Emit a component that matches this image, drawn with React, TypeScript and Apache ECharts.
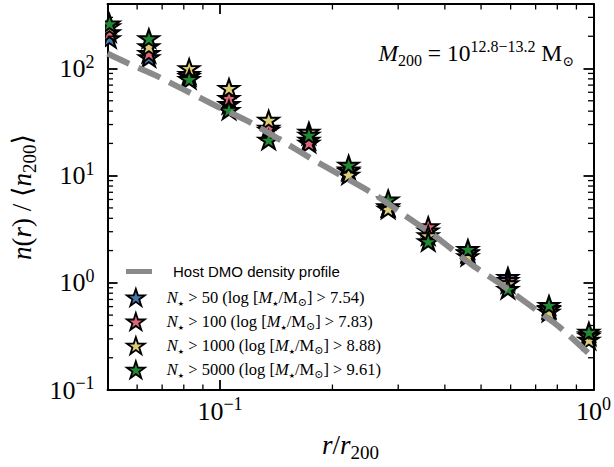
import React, { useEffect, useRef } from 'react';
import * as echarts from 'echarts';

// ---- data ----
const rBins = [0.0506, 0.0645, 0.0827, 0.1057, 0.135, 0.173, 0.221, 0.282, 0.361, 0.461, 0.59, 0.76, 0.972];
const nGt50 = [191, 127, 84.8, 46.6, 26.7, 21.6, 11.1, 5.15, 3.08, 1.9, 1.13, 0.58, 0.33];
const nGt100 = [217, 139, 88.5, 53, 27.9, 20.2, 11.4, 5.15, 3.36, 1.93, 1.06, 0.57, 0.32];
const nGt1000 = [247, 161, 100.6, 65.6, 33.1, 25.6, 10.2, 4.9, 2.77, 1.77, 0.99, 0.535, 0.294];
const nGt5000 = [263, 191, 79.6, 41, 21.6, 24, 12.6, 5.98, 2.44, 2.06, 0.875, 0.62, 0.348];

const hostR = [0.05, 0.057, 0.067, 0.0805, 0.0986, 0.1195, 0.145, 0.1776, 0.259, 0.314, 0.378, 0.47, 0.565, 0.686, 0.81, 1.0];
const hostN = [138, 111, 86.7, 62.9, 44, 31.9, 21.6, 14.1, 6.7, 4.2, 2.7, 1.49, 0.97, 0.594, 0.388, 0.2];

const seriesNames = ['N⋆ > 50', 'N⋆ > 100', 'N⋆ > 1000', 'N⋆ > 5000'];
const thresholds = ['50', '100', '1000', '5000'];
const massCuts = ['7.54', '7.83', '8.88', '9.61'];
const seriesValues = [nGt50, nGt100, nGt1000, nGt5000];
const seriesColors = ['#4477AA', '#DD6677', '#DDCC77', '#228833'];
const hostName = 'Host DMO density profile';

const xMajorTicks = [0.1, 1];
const xTickExp = ['−1', '0'];
const yMajorTicks = [0.1, 1, 10, 100];
const yTickExp = ['−1', '0', '1', '2'];
const xMinorTicks = [0.06, 0.07, 0.08, 0.09, 0.2, 0.3, 0.4, 0.5, 0.6, 0.7, 0.8, 0.9];
const yMinorTicks = [0.2, 0.3, 0.4, 0.5, 0.6, 0.7, 0.8, 0.9, 2, 3, 4, 5, 6, 7, 8, 9, 20, 30, 40, 50, 60, 70, 80, 90, 200, 300];

const X_MIN = 0.05, X_MAX = 1;
const Y_MIN = 0.1, Y_MAX = 400;

const SERIF = '"Liberation Serif", "DejaVu Serif", serif';
const SANS = '"Liberation Sans", "DejaVu Sans", sans-serif';
const STAR = 'path://M50 0 L61.23 34.55 L97.55 34.55 L68.16 55.9 L79.39 90.45 L50 69.1 L20.61 90.45 L31.84 55.9 L2.45 34.55 L38.77 34.55 Z';

const tickRich: any = {
  b: { fontFamily: SERIF, fontSize: 26, lineHeight: 32, color: '#000' },
  s: { fontFamily: SERIF, fontSize: 18, lineHeight: 24, verticalAlign: 'top', color: '#000' },
};
const nameRich: any = {
  i: { fontFamily: SERIF, fontStyle: 'italic', fontSize: 27, lineHeight: 34, color: '#000' },
  n: { fontFamily: SERIF, fontSize: 27, lineHeight: 34, color: '#000' },
  sub: { fontFamily: SERIF, fontSize: 19, lineHeight: 20, verticalAlign: 'bottom', color: '#000' },
};
const legRich: any = {
  g: { width: 10 },
  g2: { width: 16 },
  h: { fontFamily: SANS, fontSize: 15, lineHeight: 20, color: '#000' },
  i: { fontFamily: SERIF, fontStyle: 'italic', fontSize: 16.5, lineHeight: 20, color: '#000' },
  n: { fontFamily: SERIF, fontSize: 16.5, lineHeight: 20, color: '#000' },
  sub: { fontFamily: SERIF, fontSize: 11, lineHeight: 12, verticalAlign: 'bottom', color: '#000' },
  st: { fontFamily: '"DejaVu Sans", sans-serif', fontSize: 7, lineHeight: 10, verticalAlign: 'bottom', color: '#000' },
};

const fmt = (ticks: number[], exps: string[]) => (v: number) => {
  const i = ticks.findIndex((t) => Math.abs(v - t) / t < 1e-6);
  return i < 0 ? '' : `{b|10}{s|${exps[i]}}`;
};

export default function App() {
  const ref = useRef<HTMLDivElement>(null);
  useEffect(() => {
    const chart = echarts.init(ref.current!, null, { renderer: 'svg' });

    const axisCommon = {
      type: 'log' as const,
      logBase: 10,
      splitLine: { show: false },
      axisLine: { show: true, onZero: false, lineStyle: { color: '#000', width: 2 } },
      axisTick: { show: true, inside: true, length: 10, lineStyle: { color: '#000', width: 1.8 } },
      minorTick: { show: false },
    };

    const minorData: number[][] = [
      ...xMinorTicks.map((v) => [v, 1, 0]),
      ...yMinorTicks.map((v) => [0.1, v, 1]),
    ];

    const option: any = {
      animation: false,
      backgroundColor: '#fff',
      grid: { left: 106, right: 17, top: 4, bottom: 75, containLabel: false },
      xAxis: [
        {
          ...axisCommon,
          min: X_MIN,
          max: X_MAX,
          position: 'bottom',
          axisLabel: { show: true, margin: 5, formatter: fmt(xMajorTicks, xTickExp), rich: tickRich },
          name: '{i|r}{n|/}{i|r}{sub|200}',
          nameLocation: 'middle',
          nameGap: 38,
          nameTextStyle: { rich: nameRich },
        },
        {
          ...axisCommon,
          min: X_MIN,
          max: X_MAX,
          position: 'top',
          axisLabel: { show: false },
        },
      ],
      yAxis: [
        {
          ...axisCommon,
          min: Y_MIN,
          max: Y_MAX,
          position: 'left',
          axisLabel: { show: true, margin: 13, formatter: fmt(yMajorTicks, yTickExp), rich: tickRich },
          name: '{i|n}{n|(}{i|r}{n|) / ⟨}{i|n}{sub|200}{n|⟩}',
          nameLocation: 'middle',
          nameRotate: 90,
          nameGap: 67,
          nameTextStyle: { rich: nameRich },
        },
        {
          ...axisCommon,
          min: Y_MIN,
          max: Y_MAX,
          position: 'right',
          axisLabel: { show: false },
        },
      ],
      legend: [
        {
          data: [{ name: hostName, icon: 'rect' }],
          left: 121,
          top: 259,
          orient: 'vertical',
          itemWidth: 26,
          itemHeight: 5,
          selectedMode: false,
          formatter: () => `{g2| }{h|${hostName}}`,
          textStyle: { rich: legRich },
        },
        {
          data: seriesNames,
          left: 121,
          top: 283,
          orient: 'vertical',
          itemWidth: 32,
          itemHeight: 17,
          itemGap: 4.7,
          selectedMode: false,
          itemStyle: { borderColor: '#000', borderWidth: 1.8 },
          formatter: (name: string) => {
            const i = seriesNames.indexOf(name);
            return `{g| }{i|N}{st|★}{n| > ${thresholds[i]} (log [}{i|M}{st|★}{n|/M}{sub|⊙}{n|] > ${massCuts[i]})}`;
          },
          textStyle: { rich: legRich },
        },
      ],
      series: [
        ...seriesNames.map((name, k) => ({
          name,
          type: 'scatter',
          xAxisIndex: 0,
          yAxisIndex: 0,
          symbol: STAR,
          symbolSize: [20, 19],
          symbolKeepAspect: true,
          itemStyle: { color: seriesColors[k], borderColor: '#000', borderWidth: 2, opacity: 1 },
          z: 2 + k * 0.01,
          data: rBins.map((r, i) => [r, seriesValues[k][i]]),
        })),
        {
          name: hostName,
          type: 'line',
          xAxisIndex: 0,
          yAxisIndex: 0,
          showSymbol: false,
          symbol: 'none',
          smooth: 0.2,
          itemStyle: { color: '#8a8a8a' },
          lineStyle: { color: '#8a8a8a', width: 6, type: [24, 10], cap: 'butt' },
          z: 3,
          data: hostR.map((r, i) => [r, hostN[i]]),
        },
        {
          name: 'minorTicks',
          type: 'custom',
          xAxisIndex: 0,
          yAxisIndex: 0,
          silent: true,
          clip: false,
          z: 6,
          encode: { x: 0, y: 1 },
          data: minorData,
          renderItem: (params: any, api: any) => {
            const cs = params.coordSys;
            const kind = api.value(2);
            const L = 5.5;
            const st = { stroke: '#000', lineWidth: 1.3 };
            if (kind === 0) {
              const px = api.coord([api.value(0), 1])[0];
              return {
                type: 'group',
                children: [
                  { type: 'line', shape: { x1: px, y1: cs.y + cs.height, x2: px, y2: cs.y + cs.height - L }, style: st },
                  { type: 'line', shape: { x1: px, y1: cs.y, x2: px, y2: cs.y + L }, style: st },
                ],
              };
            }
            const py = api.coord([0.1, api.value(1)])[1];
            return {
              type: 'group',
              children: [
                { type: 'line', shape: { x1: cs.x, y1: py, x2: cs.x + L, y2: py }, style: st },
                { type: 'line', shape: { x1: cs.x + cs.width, y1: py, x2: cs.x + cs.width - L, y2: py }, style: st },
              ],
            };
          },
        },
      ],
      graphic: [
        {
          type: 'rect',
          shape: { x: 92, y: 5, width: 13, height: 46 },
          style: { fill: '#fff' },
          z: 10,
          silent: true,
        },
        {
          type: 'text',
          right: 40,
          top: 38,
          z: 10,
          style: {
            text: '{i|M}{sub|200}{n| = 10}{sup|12.8−13.2}{n| M}{sub2|⊙}',
            fill: '#000',
            rich: {
              i: { fontFamily: SERIF, fontStyle: 'italic', fontSize: 23.5, lineHeight: 30, fill: '#000' },
              n: { fontFamily: SERIF, fontSize: 23.5, lineHeight: 30, fill: '#000' },
              sub: { fontFamily: SERIF, fontSize: 16, lineHeight: 18, verticalAlign: 'bottom', fill: '#000' },
              sub2: { fontFamily: SERIF, fontSize: 14, lineHeight: 16, verticalAlign: 'bottom', fill: '#000' },
              sup: { fontFamily: SERIF, fontSize: 16, lineHeight: 20, verticalAlign: 'top', fill: '#000' },
            },
          },
        },
      ],
    };

    chart.setOption(option);
    return () => chart.dispose();
  }, []);

  return (
    <div
      ref={ref}
      style={{ position: 'fixed', left: 0, top: 0, width: 614, height: 467, background: '#fff' }}
    />
  );
}
